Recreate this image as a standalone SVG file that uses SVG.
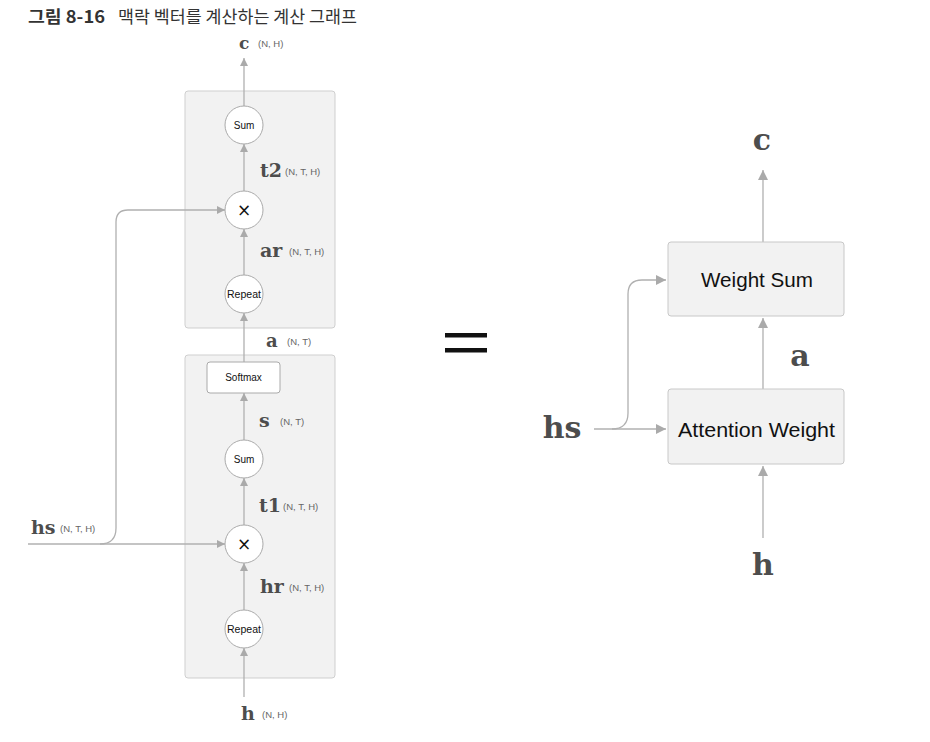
<svg xmlns="http://www.w3.org/2000/svg" width="930" height="742" viewBox="0 0 930 742">
<defs>
<marker id="ah" viewBox="0 0 10 10" refX="10" refY="5" markerWidth="8" markerHeight="8" markerUnits="userSpaceOnUse" orient="auto">
<path d="M0,0 L10,5 L0,10 z" fill="#aaa"/>
</marker>
<marker id="ahL" viewBox="0 0 10 10" refX="10" refY="5" markerWidth="10" markerHeight="10" markerUnits="userSpaceOnUse" orient="auto">
<path d="M0,0 L10,5 L0,10 z" fill="#aaa"/>
</marker>
</defs>
<style>
.grp{fill:#f2f2f2;stroke:#cfcfcf;stroke-width:1}
.op{fill:#fff;stroke:#aaa;stroke-width:1}
.box{fill:#f2f2f2;stroke:#c8c8c8;stroke-width:1}
.ln{fill:none;stroke:#b0b0b0;stroke-width:1.3}
.var{font-family:"DejaVu Serif","Liberation Serif",serif;font-weight:bold;fill:#4d4d4d}
.dim{font-family:"Liberation Sans",Arial,sans-serif;font-size:9.5px;fill:#666}
.optx{font-family:"Liberation Sans",Arial,sans-serif;font-size:10px;fill:#111;text-anchor:middle}
.mul{font-family:"DejaVu Sans",sans-serif;font-size:17px;fill:#111;text-anchor:middle}
.big{font-family:"Liberation Sans",Arial,sans-serif;font-size:20px;fill:#111;text-anchor:middle}
.title{font-family:"Noto Sans CJK KR","Noto Sans",sans-serif;font-size:17px;fill:#333}
</style>

<text class="title" x="28" y="23"><tspan font-weight="bold" textLength="77" lengthAdjust="spacingAndGlyphs">그림 8-16</tspan><tspan x="118" textLength="239" lengthAdjust="spacingAndGlyphs">맥락 벡터를 계산하는 계산 그래프</tspan></text>

<g id="group-upper"><rect class="grp" x="185" y="91" width="150" height="237" rx="3"/></g>
<g id="group-lower"><rect class="grp" x="185" y="355" width="150" height="323" rx="3"/></g>

<g id="connectors">
<path class="ln" d="M244,106 V58" marker-end="url(#ah)"/>
<path class="ln" d="M244,191 V144" marker-end="url(#ah)"/>
<path class="ln" d="M244,275 V229" marker-end="url(#ah)"/>
<path class="ln" d="M244,362 V313" marker-end="url(#ah)"/>
<path class="ln" d="M244,440 V393" marker-end="url(#ah)"/>
<path class="ln" d="M244,525 V478" marker-end="url(#ah)"/>
<path class="ln" d="M244,610 V563" marker-end="url(#ah)"/>
<path class="ln" d="M244,697 V648" marker-end="url(#ah)"/>
<path class="ln" d="M28,544 H225" marker-end="url(#ah)"/>
<path class="ln" d="M100,544 Q116,544 116,528 V222 Q116,210 128,210 H225" marker-end="url(#ah)"/>
<path class="ln" d="M763,242 V170" marker-end="url(#ahL)"/>
<path class="ln" d="M763,389 V318" marker-end="url(#ahL)"/>
<path class="ln" d="M763,538 V466" marker-end="url(#ahL)"/>
<path class="ln" d="M594,429 H666" marker-end="url(#ahL)"/>
<path class="ln" d="M612,429 Q628,429 628,413 V294 Q628,280 642,280 H666" marker-end="url(#ahL)"/>
</g>

<g id="sum-top"><circle class="op" cx="244" cy="125" r="19"/><text class="optx" x="244" y="128.5">Sum</text></g>
<g id="mul-top"><circle class="op" cx="244" cy="210" r="19"/><text class="mul" x="244" y="216">×</text></g>
<g id="repeat-top"><circle class="op" cx="244" cy="294" r="19"/><text class="optx" x="244" y="297.5" textLength="34" lengthAdjust="spacingAndGlyphs">Repeat</text></g>
<g id="softmax"><rect x="207" y="362" width="73" height="31" rx="3" fill="#fff" stroke="#aaa"/><text class="optx" x="243.5" y="381">Softmax</text></g>
<g id="sum-bottom"><circle class="op" cx="244" cy="459" r="19"/><text class="optx" x="244" y="462.5">Sum</text></g>
<g id="mul-bottom"><circle class="op" cx="244" cy="544" r="19"/><text class="mul" x="244" y="550">×</text></g>
<g id="repeat-bottom"><circle class="op" cx="244" cy="629" r="19"/><text class="optx" x="244" y="632.5" textLength="34" lengthAdjust="spacingAndGlyphs">Repeat</text></g>

<g id="labels-left">
<text class="var" x="239" y="49" font-size="17">c</text><text class="dim" x="258" y="47">(N, H)</text>
<text class="var" x="260" y="177" font-size="19">t2</text><text class="dim" x="285" y="175">(N, T, H)</text>
<text class="var" x="266" y="347" font-size="18">a</text><text class="dim" x="287" y="345">(N, T)</text>
<text class="var" x="260" y="257" font-size="19">ar</text><text class="dim" x="289" y="255">(N, T, H)</text>
<text class="var" x="259" y="427" font-size="19">s</text><text class="dim" x="280" y="425">(N, T)</text>
<text class="var" x="259" y="512" font-size="19">t1</text><text class="dim" x="283" y="510">(N, T, H)</text>
<text class="var" x="260" y="593" font-size="19">hr</text><text class="dim" x="289" y="591">(N, T, H)</text>
<text class="var" x="241" y="720" font-size="19">h</text><text class="dim" x="262" y="718">(N, H)</text>
<text class="var" x="31" y="534" font-size="19">hs</text><text class="dim" x="60" y="532">(N, T, H)</text>
</g>

<g id="equals">
<rect x="445" y="333" width="42" height="4.5" fill="#111"/>
<rect x="445" y="348" width="42" height="4.5" fill="#111"/>
</g>

<g id="weight-sum"><rect class="box" x="668" y="242" width="176" height="74" rx="3"/><text class="big" x="757" y="287" textLength="112" lengthAdjust="spacingAndGlyphs">Weight Sum</text></g>
<g id="attention-weight"><rect class="box" x="668" y="389" width="176" height="75" rx="3"/><text class="big" x="756.5" y="437" textLength="157" lengthAdjust="spacingAndGlyphs">Attention Weight</text></g>

<g id="labels-right">
<text class="var" x="762" y="150" font-size="30" text-anchor="middle">c</text>
<text class="var" x="800" y="366" font-size="30" text-anchor="middle">a</text>
<text class="var" x="562" y="438" font-size="30" text-anchor="middle">hs</text>
<text class="var" x="763" y="575" font-size="30" text-anchor="middle">h</text>
</g>
</svg>
